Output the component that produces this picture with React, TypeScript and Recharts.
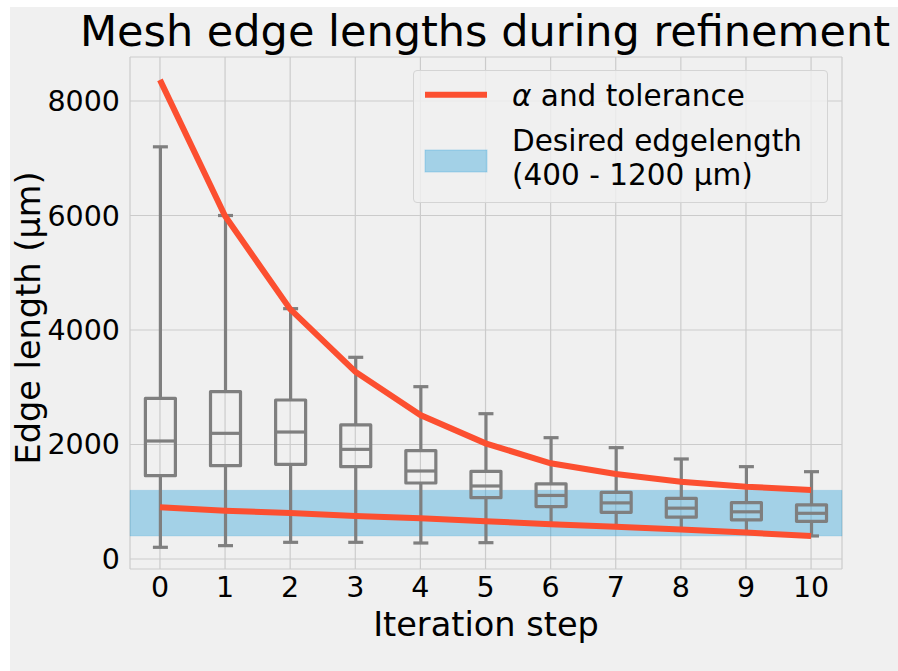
import {
  ComposedChart,
  Bar,
  Line,
  XAxis,
  YAxis,
  CartesianGrid,
  ReferenceArea,
  Legend,
  Label,
} from 'recharts';

const FONT = '"DejaVu Sans", sans-serif';
const RED = '#fc4f30';
const BLUE = '#30a2da';
const GREY = '#7f7f7f';

// iteration steps on the x axis
const steps = [0, 1, 2, 3, 4, 5, 6, 7, 8, 9, 10];

// box plot statistics of the edge lengths (µm)
const whiskerLow = [204, 233, 291, 291, 279, 285, 620, 565, 510, 463, 402];
const q1 = [1455, 1630, 1653, 1613, 1327, 1071, 915, 815, 731, 684, 658];
const median = [2061, 2195, 2218, 1915, 1537, 1275, 1110, 980, 888, 824, 798];
const q3 = [2807, 2923, 2777, 2341, 1893, 1531, 1313, 1162, 1060, 986, 946];
const whiskerHigh = [7200, 6000, 4373, 3523, 3010, 2538, 2119, 1945, 1747, 1613, 1525];

// alpha (upper) and tolerance (lower) curves
const alpha = [8370, 5990, 4365, 3272, 2515, 2020, 1671, 1485, 1351, 1263, 1205];
const tolerance = [903, 844, 803, 751, 710, 659, 608, 562, 515, 462, 402];

// desired edge length band
const bandLow = 400;
const bandHigh = 1200;

const yTicks = [0, 2000, 4000, 6000, 8000];

const data = steps.map((step, i) => ({
  step,
  lo: whiskerLow[i],
  q1: q1[i],
  med: median[i],
  q3: q3[i],
  hi: whiskerHigh[i],
  alpha: alpha[i],
  tol: tolerance[i],
}));

// draws one box + whiskers; the bar spans lo..hi so its y/height give the scale
function BoxShape(props: any) {
  const { x, y, width, height, payload } = props;
  if (!payload || height == null) return null;
  const top = Math.min(y, y + height);
  const h = Math.abs(height);
  const span = payload.hi - payload.lo;
  const py = (v: number) => top + ((payload.hi - v) / span) * h;
  const cx = x + width / 2;
  const half = 15;
  const cap = 7.5;
  return (
    <g stroke={GREY} strokeWidth={3.2} fill="none" strokeLinejoin="round">
      <line x1={cx} x2={cx} y1={py(payload.hi)} y2={py(payload.q3)} />
      <line x1={cx} x2={cx} y1={py(payload.q1)} y2={py(payload.lo)} />
      <line x1={cx - cap} x2={cx + cap} y1={py(payload.hi)} y2={py(payload.hi)} />
      <line x1={cx - cap} x2={cx + cap} y1={py(payload.lo)} y2={py(payload.lo)} />
      <rect x={cx - half} y={py(payload.q3)} width={half * 2} height={py(payload.q1) - py(payload.q3)} />
      <line x1={cx - half} x2={cx + half} y1={py(payload.med)} y2={py(payload.med)} />
    </g>
  );
}

const XTick = ({ x, y, payload }: any) => (
  <text x={x} y={y + 28} textAnchor="middle" fontSize={28.5} fontFamily={FONT} fill="#000">
    {payload.value}
  </text>
);

const YTick = ({ x, y, payload }: any) => (
  <text x={x - 10} y={y + 10} textAnchor="end" fontSize={28.5} fontFamily={FONT} fill="#000">
    {payload.value}
  </text>
);

function LegendBox() {
  return (
    <div
      style={{
        width: 415,
        height: 133,
        boxSizing: 'border-box',
        border: '1px solid #d4d4d4',
        borderRadius: 4,
        background: 'rgba(240,240,240,0.8)',
      }}
    >
      <svg width={413} height={131} style={{ display: 'block' }}>
        <line x1={11} x2={73} y1={23.7} y2={23.7} stroke={RED} strokeWidth={6} />
        <text x={98} y={35} fontSize={29.5} fontFamily={FONT} fill="#000">
          <tspan fontStyle="italic">α</tspan> and tolerance
        </text>
        <rect x={11} y={79} width={62} height={22} fill={BLUE} fillOpacity={0.4} stroke={BLUE} strokeOpacity={0.3} />
        <text x={98} y={80.3} fontSize={29.5} fontFamily={FONT} fill="#000">
          Desired edgelength
        </text>
        <text x={98} y={114.3} fontSize={29.5} fontFamily={FONT} fill="#000">
          (400 - 1200 µm)
        </text>
      </svg>
    </div>
  );
}

export default function App() {
  return (
    <div style={{ position: 'absolute', left: 0, top: 0, width: 898, height: 671, background: '#fff' }}>
      <div style={{ position: 'absolute', left: 10, top: 7, width: 888, height: 664, background: '#f0f0f0' }}>
        <div
          style={{
            position: 'absolute',
            left: 25,
            top: 3,
            width: 900,
            textAlign: 'center',
            fontFamily: FONT,
            fontSize: 43,
            lineHeight: '43px',
            color: '#000',
            whiteSpace: 'nowrap',
          }}
        >
          Mesh edge lengths during refinement
        </div>
        <ComposedChart
          width={888}
          height={664}
          data={data}
          margin={{ top: 50, right: 56, left: 0, bottom: 0 }}
          style={{ position: 'absolute', left: 0, top: 0, overflow: 'visible' }}
        >
          <CartesianGrid stroke="#cbcbcb" strokeWidth={1.2} />
          <ReferenceArea
            y1={bandLow}
            y2={bandHigh}
            fill={BLUE}
            fillOpacity={0.4}
            stroke={BLUE}
            strokeOpacity={0.15}
            ifOverflow="visible"
          />
          <XAxis
            dataKey="step"
            type="number"
            domain={[-0.46, 10.475]}
            ticks={steps}
            allowDataOverflow
            axisLine={false}
            tickLine={false}
            tickSize={0}
            tickMargin={0}
            height={102}
            tick={<XTick />}
            interval={0}
          >
            <Label
              content={() => (
                <text x={476} y={628.7} textAnchor="middle" fontSize={33.6} fontFamily={FONT} fill="#000">
                  Iteration step
                </text>
              )}
            />
          </XAxis>
          <YAxis
            type="number"
            domain={[-175, 8769]}
            ticks={yTicks}
            allowDataOverflow
            axisLine={false}
            tickLine={false}
            tickSize={0}
            tickMargin={0}
            width={120}
            tick={<YTick />}
            interval={0}
          >
            <Label
              content={() => (
                <text
                  x={30}
                  y={311}
                  transform="rotate(-90, 30, 311)"
                  textAnchor="middle"
                  fontSize={33.6}
                  fontFamily={FONT}
                  fill="#000"
                >
                  Edge length (µm)
                </text>
              )}
            />
          </YAxis>
          <Bar
            dataKey={(d: any) => [d.lo, d.hi]}
            barSize={30}
            shape={<BoxShape />}
            isAnimationActive={false}
          />
          <Line
            dataKey="alpha"
            type="linear"
            stroke={RED}
            strokeWidth={6}
            dot={false}
            activeDot={false}
            isAnimationActive={false}
          />
          <Line
            dataKey="tol"
            type="linear"
            stroke={RED}
            strokeWidth={6}
            dot={false}
            activeDot={false}
            isAnimationActive={false}
          />
          <Legend
            layout="vertical"
            align="center"
            verticalAlign="middle"
            content={() => <LegendBox />}
            wrapperStyle={{ position: 'absolute', left: 403, top: 63, width: 415, height: 133 }}
          />
        </ComposedChart>
      </div>
    </div>
  );
}
